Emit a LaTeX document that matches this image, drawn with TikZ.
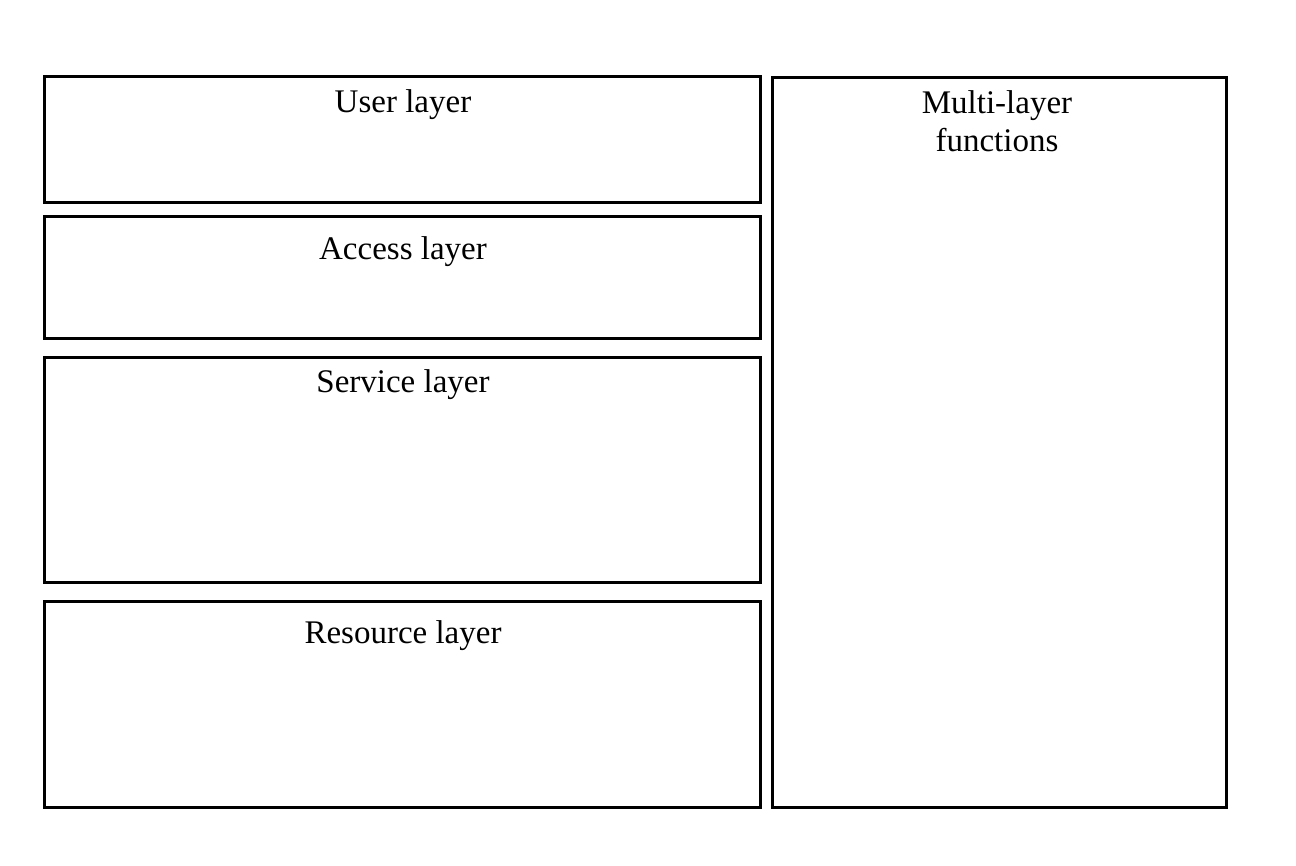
\documentclass[tikz,border=0pt]{standalone}
\usepackage{fontspec}
\setmainfont{Liberation Serif}
\begin{document}
\begin{tikzpicture}[x=1pt,y=-1pt,
  layerbox/.style={draw=black,line width=3pt,fill=none},
  lbl/.style={anchor=base,inner sep=0pt,font=\fontsize{33}{38}\selectfont,align=center}]
\useasboundingbox[fill=white] (0,0) rectangle (1296,866);
\draw[layerbox] (44,77) rectangle (760,203);
\draw[layerbox] (44,217) rectangle (760,339);
\draw[layerbox] (44,358) rectangle (760,582);
\draw[layerbox] (44,601) rectangle (760,807);
\draw[layerbox] (772,78) rectangle (1226,807);
\node[lbl] (tuser) at (403,113) {User layer};
\node[lbl] (taccess) at (403,260) {Access layer};
\node[lbl] (tservice) at (403,393) {Service layer};
\node[lbl] (tresource) at (403,643) {Resource layer};
\node[lbl] (tmulti) at (997,152) {Multi-layer\\functions};
\end{tikzpicture}
\end{document}
